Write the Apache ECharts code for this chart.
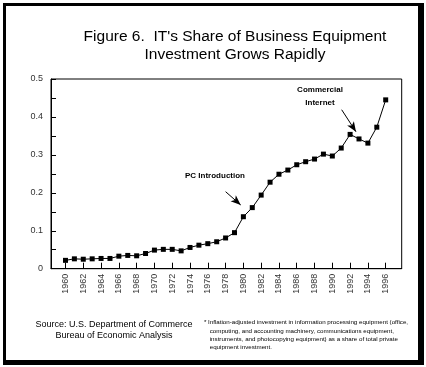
<!DOCTYPE html>
<html><head><meta charset="utf-8">
<script src="https://cdn.jsdelivr.net/npm/echarts@6/dist/echarts.min.js"></script>
<style>html,body{margin:0;padding:0;background:#fff}#c{width:426px;height:367px}</style>
</head><body><div id="c"></div>
<script>
var years = [];
for (var y = 1960; y <= 1996; y++) years.push(y);
var shares = [0.022,0.026,0.025,0.026,0.027,0.027,0.033,0.035,0.034,0.040,
  0.049,0.051,0.051,0.047,0.056,0.062,0.066,0.071,0.081,0.095,
  0.137,0.161,0.194,0.228,0.249,0.260,0.274,0.282,0.289,0.302,
  0.297,0.318,0.354,0.342,0.331,0.373,0.445];
var tickYears = [1960,1962,1964,1966,1968,1970,1972,1974,1976,1978,1980,1982,1984,1986,1988,1990,1992,1994,1996];
var FONT = 'Liberation Sans, Arial, sans-serif';
var chart = echarts.init(document.getElementById('c'), null, {renderer:'canvas'});
var data = years.map(function(y,i){return [y, shares[i]];});
chart.setOption({
  animation:false,
  backgroundColor:'#fff',
  grid:{left:51, top:79, right:24.3, bottom:98.3, show:true, borderColor:'#000', borderWidth:1, backgroundColor:'transparent'},
  xAxis:{type:'value', min:1958.37, max:1997.8,
    axisLine:{show:true, lineStyle:{color:'#000', width:1}},
    splitLine:{show:false},
    axisTick:{show:true, inside:true, length:6, customValues:tickYears, lineStyle:{color:'#000'}},
    axisLabel:{show:true, customValues:tickYears, rotate:90, fontSize:9, color:'#333', fontFamily:FONT, margin:5,
      formatter:function(v){return String(Math.round(v));}}
  },
  yAxis:{type:'value', min:0, max:0.5, interval:0.05,
    axisLine:{show:true, lineStyle:{color:'#000', width:1}},
    splitLine:{show:false},
    axisTick:{show:true, inside:true, length:5, lineStyle:{color:'#000'}},
    axisLabel:{fontSize:9, color:'#333', fontFamily:FONT, margin:8,
      formatter:function(v){var k=Math.round(v*100); if(k%10!==0) return ''; return k===0?'0':String(k/100);}}
  },
  series:[{type:'line', data:data, symbol:'rect', symbolSize:5, showSymbol:true,
    itemStyle:{color:'#000'}, lineStyle:{color:'#000', width:1},
    markLine:{silent:true, symbol:['none','arrow'], symbolSize:[6,10],
      lineStyle:{color:'#000', width:1, type:'solid'}, label:{show:false},
      data:[
        [{coord:[1978.0,0.203]},{coord:[1979.7,0.168]}],
        [{coord:[1991.05,0.419]},{coord:[1992.66,0.361]}]
      ]}
  }],
  graphic:[
    {type:'rect', shape:{x:3,y:3,width:421,height:3}, style:{fill:'#000'}},
    {type:'rect', shape:{x:3,y:3,width:3,height:362}, style:{fill:'#000'}},
    {type:'rect', shape:{x:418,y:3,width:6,height:362}, style:{fill:'#000'}},
    {type:'rect', shape:{x:3,y:360,width:421,height:5}, style:{fill:'#000'}},
    {type:'text', x:235, y:28, style:{text:"Figure 6.  IT's Share of Business Equipment\nInvestment Grows Rapidly", align:'center', verticalAlign:'top', fontSize:15.5, lineHeight:18, fontFamily:FONT, fill:'#000'}},
    {type:'text', x:215, y:176, style:{text:'PC Introduction', align:'center', verticalAlign:'middle', fontSize:8, fontWeight:'bold', fontFamily:FONT, fill:'#000'}},
    {type:'text', x:320, y:96.5, style:{text:'Commercial\nInternet', align:'center', verticalAlign:'middle', fontSize:8, lineHeight:12.5, fontWeight:'bold', fontFamily:FONT, fill:'#000'}},
    {type:'text', x:114, y:330.5, style:{text:'Source: U.S. Department of Commerce\nBureau of Economic Analysis', align:'center', verticalAlign:'middle', fontSize:9, lineHeight:11, fontFamily:FONT, fill:'#000'}},
    {type:'text', x:204, y:322.5, style:{text:'*', align:'left', verticalAlign:'middle', fontSize:6.2, fontFamily:FONT, fill:'#000'}},
    {type:'text', x:208, y:335, style:{text:'Inflation-adjusted investment in information processing equipment (office,\n computing, and accounting machinery, communications equipment,\n instruments, and photocopying equipment) as a share of total private\n equipment investment.', align:'left', verticalAlign:'middle', fontSize:6.2, lineHeight:8.4, fontFamily:FONT, fill:'#000'}}
  ]
});
</script></body></html>
